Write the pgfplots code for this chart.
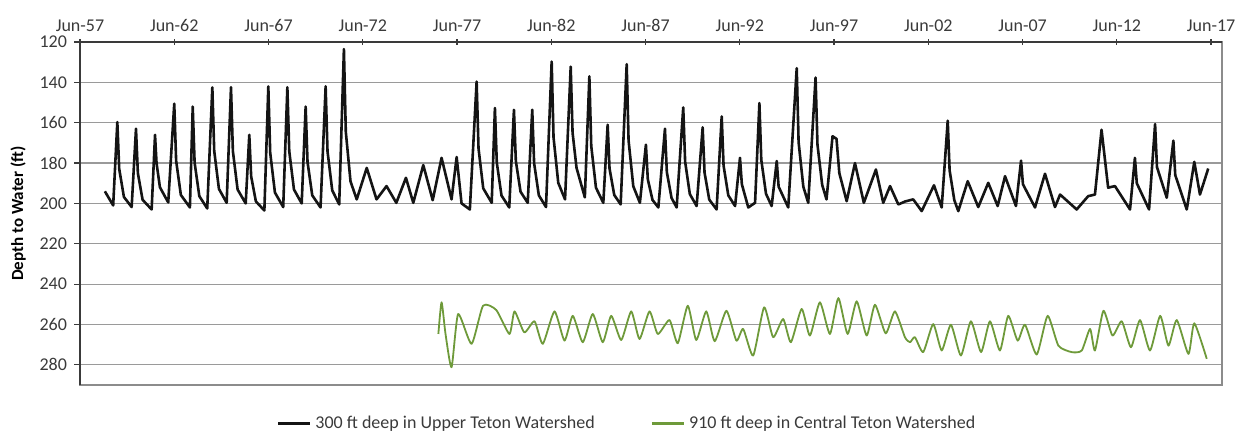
\documentclass[border=0pt]{standalone}
\usepackage{fontspec}
\setmainfont{Carlito}
\usepackage{pgfplots}
\pgfplotsset{compat=1.18}
\definecolor{axisgray}{HTML}{8C8C8C}
\definecolor{gridgray}{HTML}{9A9A9A}
\definecolor{txtgray}{HTML}{3A3A3A}
\definecolor{wellgreen}{HTML}{6E9A3A}
\definecolor{wellblack}{HTML}{141414}
\begin{document}
\begin{tikzpicture}
\begin{axis}[
  scale only axis,
  width=571pt, height=171.5pt,
  xmin=1957.42, xmax=2018.0,
  ymin=120, ymax=290,
  y dir=reverse,
  ytick={120,140,160,180,200,220,240,260,280},
  xtick={1957.42,1962.42,1967.42,1972.42,1977.42,1982.42,1987.42,1992.42,1997.42,2002.42,2007.42,2012.42,2017.42},
  xticklabels={Jun-57,Jun-62,Jun-67,Jun-72,Jun-77,Jun-82,Jun-87,Jun-92,Jun-97,Jun-02,Jun-07,Jun-12,Jun-17},
  xtick pos=upper,
  xticklabel pos=upper,
  ytick pos=left,
  ymajorgrids,
  major grid style={gridgray, line width=0.6pt},
  axis line style={axisgray, line width=0.9pt},
  tick style={txtgray, line width=0.6pt},
  major tick length=3pt,
  ytick align=outside,
  xtick align=center,
  tick label style={font=\fontsize{9}{10}\selectfont, text=txtgray},
  /pgf/number format/assume math mode=true,
  ylabel={\bfseries Depth to Water (ft)},
  ylabel style={font=\fontsize{8.5}{10}\selectfont, text=black},
  legend style={draw=none, fill=none, at={(0.48,-0.065)}, anchor=north,
    font=\fontsize{9}{10}\selectfont, text=txtgray, legend columns=2,
    /tikz/every even column/.append style={column sep=26pt}},
  legend image code/.code={\draw[#1, line width=1.2pt] (0pt,0pt) -- (16pt,0pt);},
  clip=false,
]
\draw[txtgray, line width=0.9pt] (rel axis cs:0,0) -- (rel axis cs:0,1) -- (rel axis cs:1,1);
\addplot[wellblack, line width=1.3pt, line join=round] coordinates {
(1958.74,194) (1959.18,201) (1959.40,159.7) (1959.50,182.9) (1959.75,196.8)
(1960.16,201.8) (1960.39,163) (1960.49,185) (1960.74,198.2)
(1961.22,203) (1961.40,166) (1961.48,180) (1961.66,192) (1962.10,199.5)
(1962.42,150.6) (1962.52,178.9) (1962.77,195.8)
(1963.25,202) (1963.40,152) (1963.50,179.8) (1963.75,196.4)
(1964.17,202.5) (1964.44,142.5) (1964.54,174) (1964.79,192.8)
(1965.20,199.7) (1965.43,142.4) (1965.53,174.1) (1965.78,193.1)
(1966.21,200) (1966.40,166) (1966.50,186.6) (1966.75,199)
(1967.20,203.5) (1967.41,142) (1967.51,174.9) (1967.76,194.6)
(1968.20,201.8) (1968.42,142.4) (1968.52,174.1) (1968.77,193.1)
(1969.18,200) (1969.39,152) (1969.49,179.5) (1969.74,196)
(1970.18,202) (1970.45,142) (1970.55,174.2) (1970.80,193.5)
(1971.17,200.5) (1971.42,123.5) (1971.52,164.5) (1971.77,189.1)
(1972.10,198) (1972.63,182.4) (1973.15,198) (1973.68,191.4) (1974.20,199.7)
(1974.71,187.3) (1975.10,199.7) (1975.63,181) (1976.13,198.4) (1976.60,177.4)
(1977.13,198) (1977.40,177) (1977.66,200) (1978.10,203)
(1978.46,139.6) (1978.56,172.7) (1978.81,192.5)
(1979.26,199.7) (1979.43,152.7) (1979.53,179.8) (1979.78,196.1)
(1980.19,202) (1980.44,153.6) (1980.54,179) (1980.79,194.2)
(1981.17,199.7) (1981.41,153.6) (1981.51,180.1) (1981.76,196)
(1982.14,201.8) (1982.44,129.7) (1982.54,167.3) (1982.79,189.8)
(1983.15,198) (1983.45,132.2) (1983.55,165) (1983.76,182.4) (1984.20,197)
(1984.44,137) (1984.54,171.5) (1984.79,192.2)
(1985.18,199.7) (1985.41,161) (1985.51,182.7) (1985.76,195.8)
(1986.10,200.5) (1986.42,131) (1986.52,168.8) (1986.77,191.5)
(1987.12,199.7) (1987.44,170.9) (1987.54,188) (1987.79,198.3)
(1988.10,202) (1988.45,163) (1988.55,184.5) (1988.80,197.3)
(1989.07,202) (1989.42,152.4) (1989.52,179.3) (1989.77,195.4)
(1990.13,201.3) (1990.45,162.3) (1990.55,184.7) (1990.80,198.1)
(1991.19,203) (1991.46,156.9) (1991.56,181.3) (1991.81,196)
(1992.17,201.3) (1992.43,177.4) (1992.53,190.5) (1992.87,202) (1993.23,199.7)
(1993.46,150.3) (1993.56,178.4) (1993.81,195.2)
(1994.11,201.3) (1994.38,179) (1994.48,191.7) (1994.99,202)
(1995.44,133) (1995.54,169.7) (1995.79,191.7)
(1996.05,199.7) (1996.44,137.6) (1996.54,170.8) (1996.79,190.8)
(1997.02,198) (1997.34,166.7) (1997.55,168) (1997.70,185) (1998.09,198.9)
(1998.53,180) (1999.00,199.7) (1999.64,183.2) (2000.03,199.7) (2000.39,191.4)
(2000.83,200.5) (2001.20,199) (2001.62,198) (2002.07,203.8) (2002.72,191) (2003.13,202)
(2003.45,159) (2003.55,183.6) (2003.80,198.4)
(2004.01,203.8) (2004.51,189) (2005.07,201.8) (2005.60,189.8) (2006.10,201.3)
(2006.49,186.5) (2007.07,201.3) (2007.34,178.8) (2007.44,190.5) (2008.08,202)
(2008.61,185.3) (2009.14,201.8) (2009.41,195.6) (2010.29,203) (2010.90,196.4)
(2011.26,195.6) (2011.61,163.5) (2011.96,192.2) (2012.32,191.4) (2013.12,203)
(2013.38,177.4) (2013.48,190) (2014.13,203) (2014.45,160.7) (2014.55,182)
(2015.07,197.2) (2015.42,168.9) (2015.52,186) (2016.13,203) (2016.53,179.4)
(2016.83,195.6) (2017.27,182.7)
};
\addlegendentry{300 ft deep in Upper Teton Watershed}
\addplot[wellgreen, line width=0.9pt, line join=round, smooth, tension=0.35] coordinates {
(1976.43,264.7) (1976.60,249) (1976.81,264.7) (1977.13,281.2) (1977.48,254.8)
(1978.19,269.6) (1978.80,250.7) (1979.50,252.8) (1980.20,264.7) (1980.47,253.5)
(1980.99,263.9) (1981.53,258.4) (1981.97,269.6) (1982.59,253.5) (1983.12,268)
(1983.56,255.7) (1984.09,268.8) (1984.62,254.8) (1985.15,268.8) (1985.60,255.7)
(1986.13,267.7) (1986.66,253.5) (1987.10,267.2) (1987.63,253.5) (1988.07,264.7)
(1988.69,257.8) (1989.13,269.3) (1989.66,250.7) (1990.11,267.7) (1990.64,253.5)
(1991.09,268.3) (1991.71,253.2) (1992.24,268) (1992.60,262.2) (1993.13,275.4)
(1993.71,251.5) (1994.19,266.3) (1994.72,257.3) (1995.13,268.8) (1995.70,252.3)
(1996.14,265.5) (1996.67,249) (1997.20,264.7) (1997.65,246.9) (1998.14,264.7)
(1998.62,248.5) (1999.15,265.5) (1999.59,250.2) (2000.16,264.4) (2000.65,253.5)
(2001.18,266.3) (2001.45,268.8) (2001.71,266.3) (2002.15,273.7) (2002.68,259.8)
(2003.13,272.9) (2003.62,260.1) (2004.15,275.4) (2004.68,258.4) (2005.22,273.7)
(2005.69,258.4) (2006.22,272.9) (2006.66,255.7) (2007.16,268) (2007.55,260.1)
(2008.17,274.9) (2008.75,255.7) (2009.32,270.5) (2010.03,273.7) (2010.56,272.9)
(2011.00,262.2) (2011.26,272.9) (2011.71,253.2) (2012.19,265.5) (2012.68,258.4)
(2013.17,271.3) (2013.65,257.8) (2014.18,272.9) (2014.72,255.7) (2015.16,270.5)
(2015.60,257.8) (2016.22,274.6) (2016.53,259.4) (2017.19,277)
};
\addlegendentry{910 ft deep in Central Teton Watershed}
\coordinate (bl) at (rel axis cs:0,0);
\coordinate (tr) at (rel axis cs:1,1);
\end{axis}
\pgfresetboundingbox
\path[use as bounding box] ([xshift=-40pt,yshift=-22.5pt]bl) rectangle ([xshift=11.5pt,yshift=21pt]tr);
\end{tikzpicture}
\end{document}
